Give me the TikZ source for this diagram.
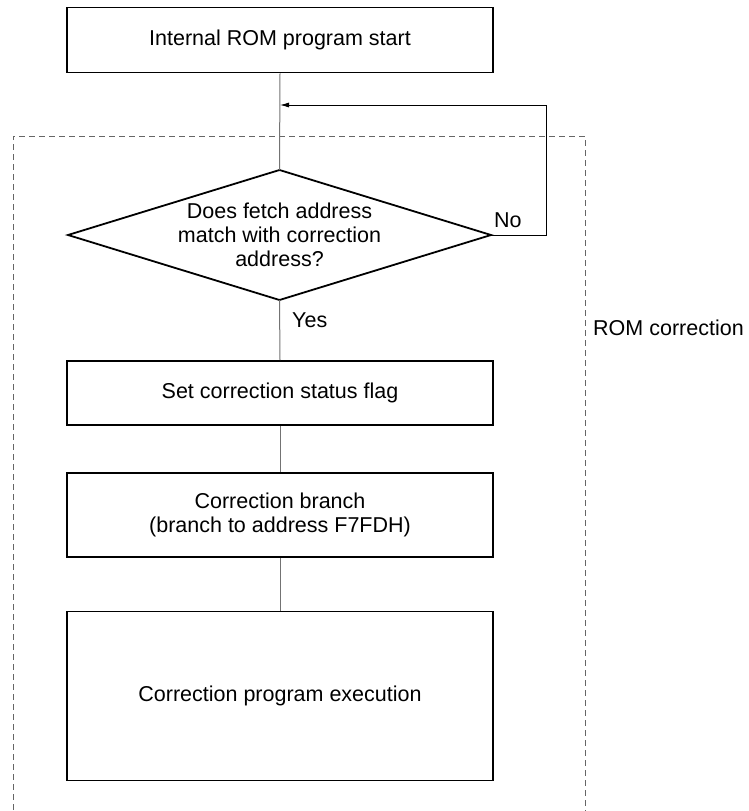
\documentclass[tikz,border=0pt]{standalone}
\usepackage{fontspec}
\setmainfont{Liberation Sans}
\usetikzlibrary{arrows.meta}
\begin{document}
\begin{tikzpicture}[x=1pt,y=-1pt,
  procbox/.style={draw=black,line width=1.8pt,fill=white,minimum width=426pt,inner sep=0pt,align=center,font=\fontsize{21.5}{24}\selectfont},
  conn/.style={draw=black!55,line width=1pt},
  fb/.style={draw=black,line width=0.8pt},
  lbl/.style={font=\fontsize{21.5}{24}\selectfont,inner sep=0pt},
  region/.style={draw=black!60,line width=0.9pt,dash pattern=on 6pt off 4pt}]
\useasboundingbox (0,0) rectangle (749,811);
% dashed region
\draw[region] (13,830) -- (13,136) -- (585,136) -- (585,830);
% nodes
\node[procbox,minimum height=65pt] (start) at (280,40) {Internal ROM program start};
\path[draw=black,line width=1.8pt,fill=white] (68,235) coordinate (dl) -- (279.5,170) coordinate (dt) -- (491,235) coordinate (dr) -- (279.5,300) coordinate (db) -- cycle;
\node[lbl,align=center] (dtext) at (279.5,235) {Does fetch address\\match with correction\\address?};
\node[procbox,minimum height=64pt] (flag) at (280,393) {Set correction status flag};
\node[procbox,minimum height=84pt] (branch) at (280,515) {Correction branch\\(branch to address F7FDH)};
\node[procbox,minimum height=169pt] (exec) at (280,696) {Correction program execution};
% connectors
\coordinate (fbtop) at (546,105);
\coordinate (fbin) at (280,105);
\draw[conn] (start.south) -- (dt);
\draw[conn] (db) -- (flag.north);
\draw[conn] (flag.south) -- (branch.north);
\draw[conn] (branch.south) -- (exec.north);
\draw[fb,-{Latex[length=9pt,width=5pt]}] (dr) -- (546,235) -- (fbtop) -- (fbin);
% labels
\node[lbl,anchor=west] (no) at (494,220) {No};
\node[lbl,anchor=west] (yes) at (292,320) {Yes};
\node[lbl,anchor=west] (rom) at (593,328) {ROM correction};
\end{tikzpicture}
\end{document}
